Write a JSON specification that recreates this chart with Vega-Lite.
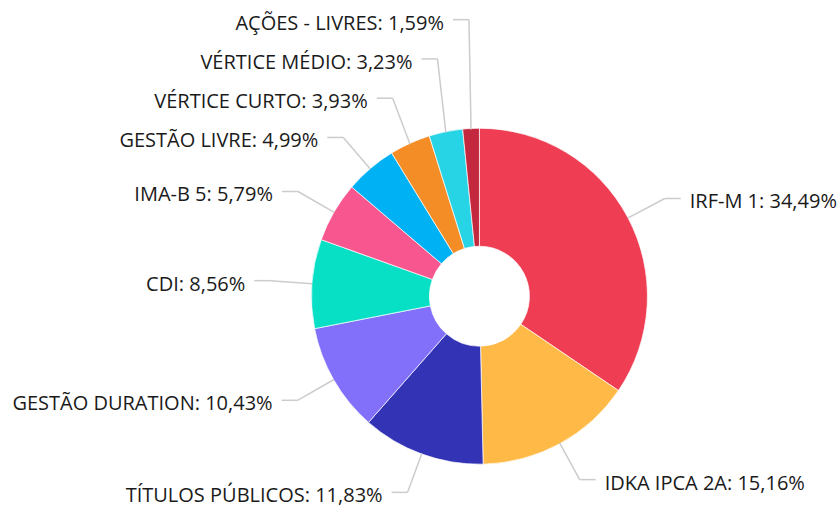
{
  "$schema": "https://vega.github.io/schema/vega-lite/v6.json",
  "width": 837,
  "height": 507,
  "padding": 0,
  "autosize": {"type": "fit", "contains": "padding"},
  "background": "#ffffff",
  "config": {"view": {"stroke": null}},
  "data": {
    "values": [
      {"name": "IRF-M 1", "value": 34.49},
      {"name": "IDKA IPCA 2A", "value": 15.16},
      {"name": "TÍTULOS PÚBLICOS", "value": 11.83},
      {"name": "GESTÃO DURATION", "value": 10.43},
      {"name": "CDI", "value": 8.56},
      {"name": "IMA-B 5", "value": 5.79},
      {"name": "GESTÃO LIVRE", "value": 4.99},
      {"name": "VÉRTICE CURTO", "value": 3.93},
      {"name": "VÉRTICE MÉDIO", "value": 3.23},
      {"name": "AÇÕES - LIVRES", "value": 1.59}
    ]
  },
  "transform": [
    {"window": [{"op": "row_number", "as": "idx"}, {"op": "sum", "field": "value", "as": "cum"}], "frame": [null, 0]},
    {"calculate": "(datum.cum - datum.value / 2) / 100 * 2 * PI", "as": "a"},
    {"calculate": "datum.a > PI ? 'L' : 'R'", "as": "side"},
    {"calculate": "210 * cos(datum.a)", "as": "uy0"},
    {"calculate": "datum.side == 'L' ? datum.idx : -datum.idx", "as": "sk"},
    {"window": [{"op": "row_number", "as": "k"}], "groupby": ["side"], "sort": [{"field": "sk", "order": "ascending"}]},
    {"calculate": "datum.uy0 - (datum.k - 1) * 39.5", "as": "z"},
    {"window": [{"op": "max", "field": "z", "as": "zm"}], "groupby": ["side"], "sort": [{"field": "sk", "order": "ascending"}], "frame": [null, 0]},
    {"calculate": "datum.zm + (datum.k - 1) * 39.5", "as": "uy"},
    {"calculate": "168 * sin(datum.a)", "as": "ex"},
    {"calculate": "168 * cos(datum.a)", "as": "ey"},
    {"calculate": "210 * sin(datum.a)", "as": "bx"},
    {"calculate": "datum.side == 'L' ? -1 : 1", "as": "sgn"},
    {"calculate": "datum.bx + datum.sgn * 16", "as": "endx"},
    {"calculate": "datum.bx + datum.sgn * 25", "as": "tx"},
    {"calculate": "datum.name + ': ' + replace(format(datum.value, '.2f'), '.', ',') + '%'", "as": "label"}
  ],
  "layer": [
    {
      "mark": {"type": "arc", "outerRadius": 168, "innerRadius": 50, "stroke": "#ffffff", "strokeWidth": 0.7},
      "encoding": {
        "x": {"datum": 0, "type": "quantitative", "scale": {"domain": [-480, 357], "nice": false, "zero": false}, "axis": null},
        "y": {"datum": 0, "type": "quantitative", "scale": {"domain": [-209, 298], "nice": false, "zero": false}, "axis": null},
        "theta": {"field": "value", "type": "quantitative", "stack": true},
        "order": {"field": "idx", "type": "quantitative"},
        "color": {
          "field": "name",
          "type": "nominal",
          "legend": null,
          "scale": {
            "domain": ["IRF-M 1", "IDKA IPCA 2A", "TÍTULOS PÚBLICOS", "GESTÃO DURATION", "CDI", "IMA-B 5", "GESTÃO LIVRE", "VÉRTICE CURTO", "VÉRTICE MÉDIO", "AÇÕES - LIVRES"],
            "range": ["#EF3E54", "#FFB946", "#3333B5", "#8270FA", "#08E0C6", "#F7568E", "#00B2F3", "#F58D26", "#26D4E6", "#C4283E"]
          }
        }
      }
    },
    {
      "mark": {"type": "rule", "color": "#cccccc", "strokeWidth": 1.5},
      "encoding": {
        "x": {"field": "ex", "type": "quantitative"},
        "y": {"field": "ey", "type": "quantitative"},
        "x2": {"field": "bx"},
        "y2": {"field": "uy"}
      }
    },
    {
      "mark": {"type": "rule", "color": "#cccccc", "strokeWidth": 1.5},
      "encoding": {
        "x": {"field": "bx", "type": "quantitative"},
        "y": {"field": "uy", "type": "quantitative"},
        "x2": {"field": "endx"},
        "y2": {"field": "uy"}
      }
    },
    {
      "transform": [{"filter": "datum.side == 'L'"}],
      "mark": {"type": "text", "align": "right", "baseline": "alphabetic", "dy": 10, "font": "Open Sans", "fontSize": 20, "color": "#1a1a1a"},
      "encoding": {
        "x": {"field": "tx", "type": "quantitative"},
        "y": {"field": "uy", "type": "quantitative"},
        "text": {"field": "label"}
      }
    },
    {
      "transform": [{"filter": "datum.side == 'R'"}],
      "mark": {"type": "text", "align": "left", "baseline": "alphabetic", "dy": 10, "font": "Open Sans", "fontSize": 20, "color": "#1a1a1a"},
      "encoding": {
        "x": {"field": "tx", "type": "quantitative"},
        "y": {"field": "uy", "type": "quantitative"},
        "text": {"field": "label"}
      }
    }
  ]
}
